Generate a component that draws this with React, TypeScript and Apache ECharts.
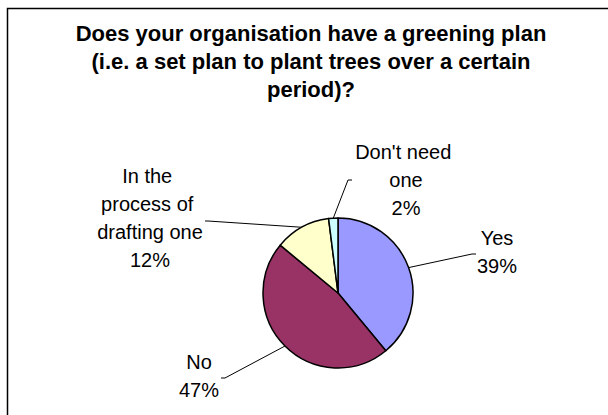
import React, { useEffect, useRef } from "react";
import * as echarts from "echarts";

const titleText =
  "Does your organisation have a greening plan\n(i.e. a set plan to plant trees over a certain\nperiod)?";
const categories = ["Yes", "No", "In the process of drafting one", "Don't need one"];
const values = [39, 47, 12, 2];
const colors = ["#9999FF", "#993366", "#FFFFCC", "#CCFFFF"];

// label layout (centres of the label blocks and leader line ends)
const labelCenters: number[][] = [
  [497, 252],
  [199, 376],
  [150, 218],
  [406, 180],
];
const leaderEnds: number[][][] = [
  [[472, 254], [476, 254]],
  [[225, 378], [221, 378]],
  [[208, 221], [205, 221]],
  [[348, 180], [352, 180]],
];

const CENTER = [338, 293];
const RADIUS = 75;
const FONT = "'Liberation Sans', Arial, Helvetica, sans-serif";

export default function App() {
  const ref = useRef<HTMLDivElement>(null);
  useEffect(() => {
    if (!ref.current) return;
    const chart = echarts.init(ref.current, undefined, { renderer: "svg" });
    const total = values.reduce((a, b) => a + b, 0);
    const mids: number[] = [];
    let cum = 0;
    values.forEach((v) => {
      mids.push(((cum + v / 2) / total) * Math.PI * 2);
      cum += v;
    });
    chart.setOption({
      animation: false,
      backgroundColor: "#ffffff",
      title: {
        text: titleText,
        left: 311,
        top: 19,
        textAlign: "center",
        padding: 0,
        textStyle: {
          fontFamily: FONT,
          fontSize: 22,
          fontWeight: "bold",
          color: "#000",
          lineHeight: 28,
        },
      },
      graphic: [
        {
          type: "rect",
          shape: { x: 7.5, y: 8.5, width: 640, height: 440 },
          style: { fill: "none", stroke: "#000", lineWidth: 1.5 },
          silent: true,
        },
      ],
      series: [
        {
          type: "pie",
          center: CENTER,
          radius: RADIUS,
          startAngle: 90,
          clockwise: true,
          avoidLabelOverlap: false,
          data: categories.map((c, i) => ({
            name: c,
            value: values[i],
            itemStyle: { color: colors[i] },
          })),
          itemStyle: { borderColor: "#000", borderWidth: 1.5 },
          label: {
            show: true,
            position: "outside",
            formatter: (p: any) => `${p.name}\n${Math.round(p.percent)}%`,
            fontFamily: FONT,
            fontSize: 20,
            lineHeight: 28,
            color: "#000",
            width: 114,
            overflow: "break",
            align: "center",
          },
          labelLine: {
            show: true,
            lineStyle: { color: "#000", width: 1 },
          },
          labelLayout: (params: any) => {
            const i = params.dataIndex;
            const a = mids[i];
            const start = [CENTER[0] + RADIUS * Math.sin(a), CENTER[1] - RADIUS * Math.cos(a)];
            return {
              x: labelCenters[i][0],
              y: labelCenters[i][1],
              align: "center",
              verticalAlign: "middle",
              labelLinePoints: [start, leaderEnds[i][0], leaderEnds[i][1]],
            };
          },
          emphasis: { disabled: true },
        },
      ],
    });
    return () => chart.dispose();
  }, []);
  return (
    <div
      ref={ref}
      style={{ position: "absolute", left: 0, top: 0, width: 608, height: 415 }}
    />
  );
}
